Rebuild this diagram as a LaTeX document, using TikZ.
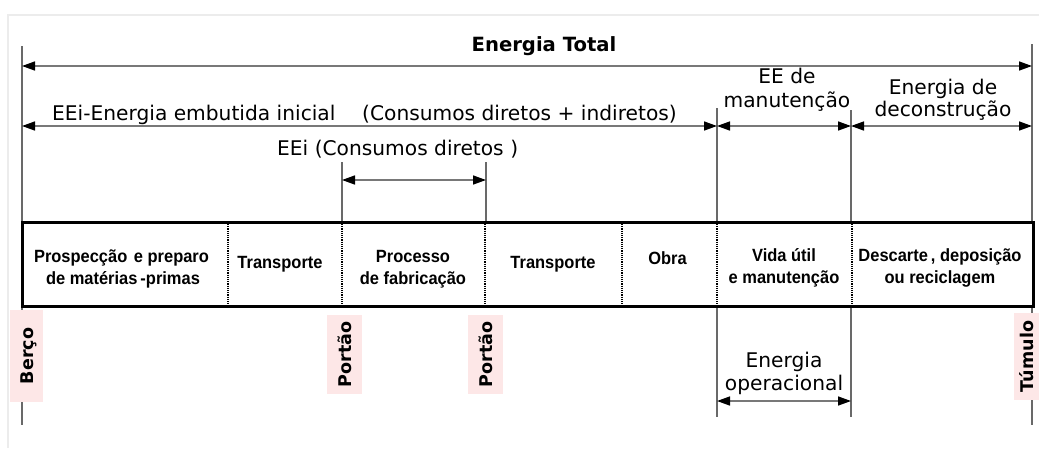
\documentclass[tikz,border=0pt]{standalone}
\usepackage{fontspec}
\newfontfamily\annfont{DejaVu Sans}
\newfontfamily\cellfont[FakeStretch=0.93]{Liberation Sans}
\usetikzlibrary{arrows.meta}
\definecolor{pinkbg}{RGB}{253,231,231}
\definecolor{linegray}{RGB}{105,105,105}
\definecolor{shaftgray}{RGB}{120,120,120}
\definecolor{framegray}{RGB}{236,236,236}
\begin{document}
\begin{tikzpicture}[x=1pt,y=-1pt,
  ann/.style={font=\annfont\fontsize{20.2}{23}\selectfont, inner sep=0pt, anchor=base},
  annbold/.style={font=\annfont\bfseries\fontsize{19.6}{23}\selectfont, inner sep=0pt, anchor=base},
  celltxt/.style={font=\cellfont\bfseries\fontsize{17.7}{22}\selectfont, inner sep=0pt, anchor=base},
  tag/.style={font=\annfont\bfseries\fontsize{17.5}{20}\selectfont, fill=pinkbg, rotate=90,
    inner sep=0pt, text height=13pt, text depth=0pt, anchor=center},
  vline/.style={draw=linegray, line width=1.3pt},
  dimarrow/.style={draw=shaftgray, line width=1.5pt,
    {Triangle[length=13pt,width=9pt,black]}-{Triangle[length=13pt,width=9pt,black]}},
  divider/.style={draw=black, line width=1.4pt, dash pattern=on 1.2pt off 1pt},
]
\useasboundingbox (0,0) rectangle (1039,448);
% faint frame
\draw[framegray, line width=1.2pt] (8,448) -- (8,15) -- (1039,15);

% coordinates
\coordinate (lt) at (22,46);   \coordinate (lb) at (22,222);
\coordinate (lu) at (22,306);  \coordinate (ld) at (22,425);
\coordinate (rt) at (1032,44); \coordinate (rb) at (1032,222);
\coordinate (ru) at (1032,306);\coordinate (rd) at (1032,425);
\coordinate (p1t) at (342,162);\coordinate (p1b) at (342,222);
\coordinate (p2t) at (486,162);\coordinate (p2b) at (486,222);
\coordinate (mt) at (717,108); \coordinate (mb) at (717,222);
\coordinate (mu) at (717,306); \coordinate (md) at (717,417);
\coordinate (dt) at (851,110); \coordinate (db) at (851,222);
\coordinate (du) at (851,306); \coordinate (dd) at (851,417);

\coordinate (tot1) at (22,66);  \coordinate (tot2) at (1032,66);
\coordinate (a1) at (22,126);   \coordinate (a2) at (717,126);
\coordinate (a3) at (851,126);  \coordinate (a4) at (1032,126);
\coordinate (b1) at (342,180);  \coordinate (b2) at (486,180);
\coordinate (o1) at (717,401);  \coordinate (o2) at (851,401);

% vertical lines
\draw[vline] (lt) -- (lb);  \draw[vline] (lu) -- (ld);
\draw[vline] (rt) -- (rb);  \draw[vline] (ru) -- (rd);
\draw[vline] (p1t) -- (p1b);\draw[vline] (p2t) -- (p2b);
\draw[vline] (mt) -- (mb);  \draw[vline] (mu) -- (md);
\draw[vline] (dt) -- (db);  \draw[vline] (du) -- (dd);

% dimension arrows
\draw[dimarrow] (tot1) -- (tot2);
\draw[dimarrow] (a1) -- (a2);
\draw[dimarrow] (a2) -- (a3);
\draw[dimarrow] (a3) -- (a4);
\draw[dimarrow] (b1) -- (b2);
\draw[dimarrow] (o1) -- (o2);

% annotation texts
\node[annbold] (total) at (544,51) {Energia Total};
\node[ann, anchor=base west] (eei) at (52,120) {EEi-Energia embutida inicial};
\node[ann, anchor=base west] (cons) at (362,120) {(Consumos diretos + indiretos)};
\node[ann, anchor=base west] (eeid) at (277,155) {EEi (Consumos diretos\,\,)};
\node[ann] (eem1) at (787,83) {EE de};
\node[ann] (eem2) at (787,107) {manutenção};
\node[ann] (ed1) at (943,94) {Energia de};
\node[ann] (ed2) at (943,116) {deconstrução};
\node[ann] (eo1) at (784,367) {Energia};
\node[ann] (eo2) at (784,390) {operacional};

% stages box
\draw[line width=3pt] (22,222) rectangle (1033,306);
\coordinate (s1t) at (228,222); \coordinate (s1b) at (228,306);
\coordinate (s2t) at (342,222); \coordinate (s2b) at (342,306);
\coordinate (s3t) at (485,222); \coordinate (s3b) at (485,306);
\coordinate (s4t) at (622,222); \coordinate (s4b) at (622,306);
\coordinate (s5t) at (717,222); \coordinate (s5b) at (717,306);
\coordinate (s6t) at (852,222); \coordinate (s6b) at (852,306);
\foreach \s in {1,...,6}{\draw[divider] ([yshift=-2pt]s\s t) -- ([yshift=2pt]s\s b);}

\node[celltxt] (c1a) at (121.5,262) {Prospecção\hspace{2pt} e preparo};
\node[celltxt] (c1b) at (123,284) {de matérias\,-primas};
\node[celltxt] (c2) at (280,268) {Transporte};
\node[celltxt] (c3a) at (413,262) {Processo};
\node[celltxt] (c3b) at (413,284) {de fabricação};
\node[celltxt] (c4) at (553,268) {Transporte};
\node[celltxt] (c5) at (667.5,264) {Obra};
\node[celltxt] (c6a) at (784,261) {Vida útil};
\node[celltxt] (c6b) at (784,283) {e manutenção};
\node[celltxt] (c7a) at (940,261) {Descarte\,, deposição};
\node[celltxt] (c7b) at (940,283) {ou reciclagem};

% milestone tags
\node[tag, minimum width=92pt, minimum height=33pt] (berco) at (26.5,356) {Berço};
\node[tag, minimum width=79pt, minimum height=35pt] (portao1) at (344.5,354.5) {Portão};
\node[tag, minimum width=79pt, minimum height=35pt] (portao2) at (485.5,354.5) {Portão};
\node[tag, minimum width=87pt, minimum height=25pt] (tumulo) at (1026.5,356.5) {Túmulo};
\end{tikzpicture}
\end{document}
